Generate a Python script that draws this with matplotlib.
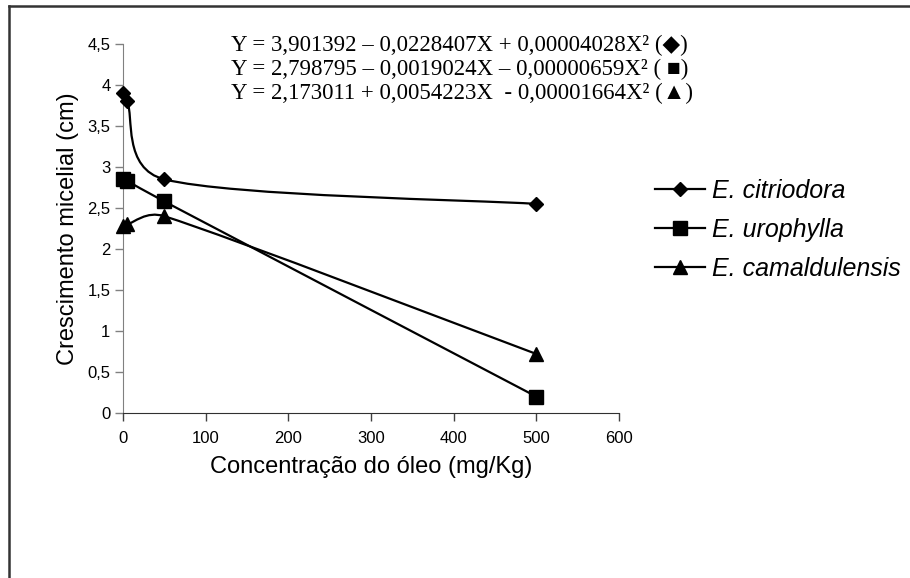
import numpy as np
import matplotlib
matplotlib.use("Agg")
import matplotlib.pyplot as plt
from matplotlib.path import Path
from matplotlib.patches import PathPatch
from matplotlib.lines import Line2D

# ---- data ----
conc = [0, 5, 50, 500]
citriodora = [3.90, 3.80, 2.85, 2.55]
urophylla = [2.85, 2.83, 2.58, 0.20]
camaldulensis = [2.28, 2.30, 2.40, 0.72]
series_names = ["E. citriodora", "E. urophylla", "E. camaldulensis"]
equations = [
    "Y = 3,901392 \u2013 0,0228407X + 0,00004028X\u00b2 (\u25c6)",
    "Y = 2,798795 \u2013 0,0019024X \u2013 0,00000659X\u00b2 ( \u25a0)",
    "Y = 2,173011 + 0,0054223X  - 0,00001664X\u00b2 (\u25b2)",
]
xticks = [0, 100, 200, 300, 400, 500, 600]
yticks = [0, 0.5, 1, 1.5, 2, 2.5, 3, 3.5, 4, 4.5]
ytick_labels = ["0", "0,5", "1", "1,5", "2", "2,5", "3", "3,5", "4", "4,5"]

sans = ["Liberation Sans", "DejaVu Sans"]
serif = ["Liberation Serif", "DejaVu Serif", "DejaVu Sans"]

fig = plt.figure(figsize=(9.10, 5.78), dpi=100)
ax = fig.add_axes([123/910, 1-413/578, (619-123)/910, (413-44)/578])
ax.set_xlim(0, 600)
ax.set_ylim(0, 4.5)


def smooth_path(x, y):
    """Excel-like smoothed line: cubic Bezier, tension 1/6, control arms
    limited to half the segment length (computed in screen space)."""
    pts = ax.transData.transform(np.column_stack([x, y]).astype(float))
    n = len(pts)
    verts = [pts[0]]
    codes = [Path.MOVETO]
    for i in range(n - 1):
        p0 = pts[i - 1] if i > 0 else pts[i]
        p1 = pts[i]
        p2 = pts[i + 1]
        p3 = pts[i + 2] if i + 2 < n else pts[i + 1]
        seg = np.hypot(*(p2 - p1))
        a1 = (p2 - p0) / 6.0
        a2 = (p3 - p1) / 6.0
        for a in (a1, a2):
            ln = np.hypot(*a)
            if ln > seg / 2 and ln > 0:
                a *= (seg / 2) / ln
        verts += [p1 + a1, p2 - a2, p2]
        codes += [Path.CURVE4] * 3
    verts = ax.transData.inverted().transform(np.array(verts))
    return Path(verts, codes)


markers = ["D", "s", "^"]
msizes = [7, 10, 10]
for vals, m, ms in zip([citriodora, urophylla, camaldulensis], markers, msizes):
    ax.add_patch(PathPatch(smooth_path(conc, vals), facecolor="none",
                           edgecolor="black", lw=1.6, zorder=2))
    ax.plot(conc, vals, linestyle="none", marker=m, markersize=ms,
            color="black", zorder=3, clip_on=False)

ax.set_xticks(xticks)
ax.set_xticklabels([str(t) for t in xticks], fontfamily=sans, fontsize=12)
ax.set_yticks(yticks)
ax.set_yticklabels(ytick_labels, fontfamily=sans, fontsize=12)
ax.tick_params(axis="both", direction="out", length=6, width=1)
ax.tick_params(axis="y", colors="#808080", labelcolor="black", pad=3)
ax.tick_params(axis="x", colors="#404040", labelcolor="black", pad=7)
ax.spines["top"].set_visible(False)
ax.spines["right"].set_visible(False)
ax.spines["left"].set_color("#808080")
ax.spines["bottom"].set_color("#303030")

ax.set_xlabel("Concentra\u00e7\u00e3o do \u00f3leo (mg/Kg)", fontfamily=sans,
              fontsize=17, labelpad=7)
ax.set_ylabel("Crescimento micelial (cm)", fontfamily=sans, fontsize=17,
              labelpad=6)

# equations
for i, eq in enumerate(equations):
    fig.text(231/910, 1 - (45 + i * 24)/578, eq, fontfamily=serif,
             fontsize=16.5, ha="left", va="center")

# legend
handles = [Line2D([0], [0], color="black", lw=1.6, marker=m, markersize=ms)
           for m, ms in zip(markers, msizes)]
leg = fig.legend(handles, series_names, loc="upper left",
                 bbox_to_anchor=(655/910, 1 - 179/578), frameon=False,
                 prop={"family": sans, "size": 18, "style": "italic"},
                 handlelength=2.0, handletextpad=0.3, labelspacing=0.6,
                 borderpad=0, borderaxespad=0)

# outer frame (left and top edges only)
fig.add_artist(Line2D([9/910, 9/910], [0, 1 - 6/578], transform=fig.transFigure,
                      color="#333333", lw=1.8))
fig.add_artist(Line2D([9/910, 1], [1 - 6/578, 1 - 6/578], transform=fig.transFigure,
                      color="#333333", lw=1.8))

fig.savefig("out.png", dpi=100)
